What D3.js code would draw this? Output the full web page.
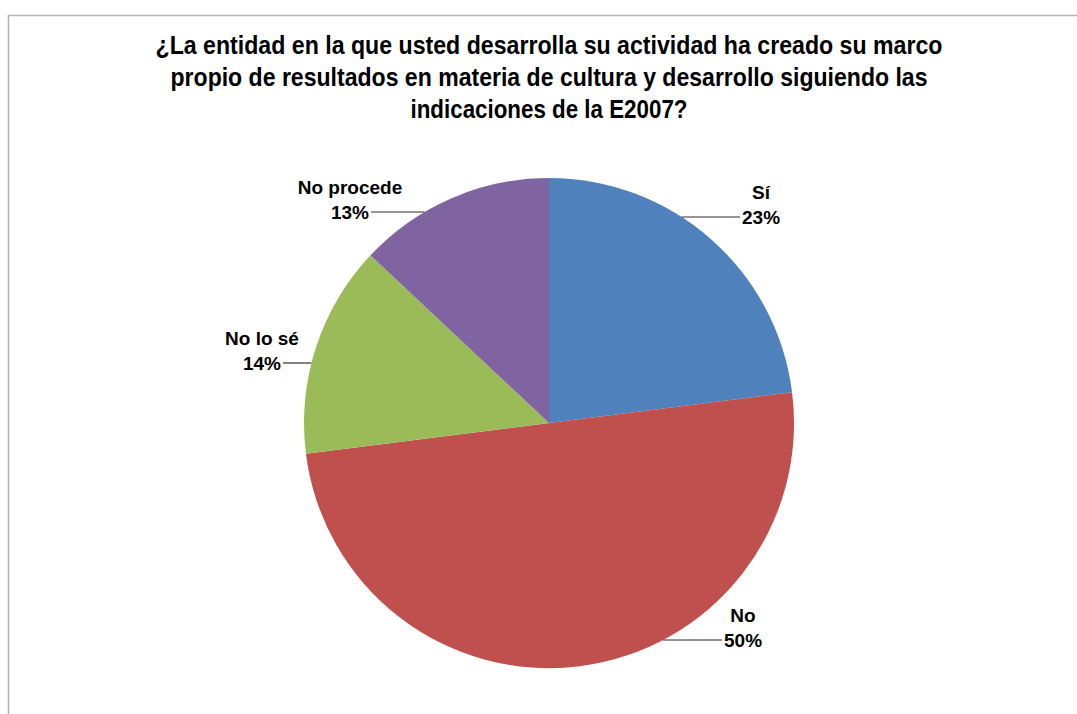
<!DOCTYPE html>
<html>
<head>
<meta charset="utf-8">
<script src="https://cdn.jsdelivr.net/npm/d3@7"></script>
<style>
  body { margin: 0; background: #fff; }
  svg { display: block; }
</style>
</head>
<body>
<div id="chart"></div>
<script>
"use strict";

// Data
const categories = ["Sí", "No", "No lo sé", "No procede"];
const percentages = [23, 50, 14, 13];
const colors = ["#4F81BD", "#C0504D", "#9BBB59", "#8064A2"];
const titleLines = [
    "¿La entidad en la que usted desarrolla su actividad ha creado su marco",
    "propio de resultados en materia de cultura y desarrollo siguiendo las",
    "indicaciones de la E2007?"
];

// Layout
const width = 1077, height = 714;
const cx = 549, cy = 423, radius = 245;
const titleWidths = [787, 757, 277];
// label side end of each leader line, relative to pie centre
const labelLayout = [
    { dx: 191, dy: -206 },
    { dx: 173, dy: 217 },
    { dx: -266, dy: -60 },
    { dx: -178, dy: -211 }
];

const svg = d3.select("#chart").append("svg")
    .attr("width", width)
    .attr("height", height)
    .attr("viewBox", [0, 0, width, height]);

// Chart frame (right and bottom edges are cut off in the picture)
svg.append("rect")
    .attr("x", 8.5)
    .attr("y", 15.5)
    .attr("width", width + 20)
    .attr("height", height + 20)
    .attr("fill", "#fff")
    .attr("stroke", "#b3b3b3")
    .attr("stroke-width", 1.5);

// Title
svg.append("g")
    .attr("font-family", "'Liberation Sans', Arial, sans-serif")
    .attr("font-weight", "bold")
    .attr("font-size", 25)
    .attr("fill", "#000")
    .selectAll("text")
    .data(titleLines)
    .join("text")
    .attr("x", cx)
    .attr("y", (d, i) => 54 + i * 32)
    .attr("text-anchor", "middle")
    .attr("textLength", (d, i) => titleWidths[i])
    .attr("lengthAdjust", "spacingAndGlyphs")
    .text(d => d);

const pie = d3.pie().sort(null).value(d => d.value);
const arc = d3.arc().innerRadius(0).outerRadius(radius);

const slices = pie(categories.map((c, i) => ({ name: c, value: percentages[i], color: colors[i] })));

const g = svg.append("g").attr("transform", `translate(${cx},${cy})`);

g.selectAll("path.slice")
    .data(slices)
    .join("path")
    .attr("class", "slice")
    .attr("d", arc)
    .attr("fill", d => d.data.color);

// Leader lines: horizontal from label to the pie edge
const labels = g.append("g")
    .attr("font-family", "'Liberation Sans', Arial, sans-serif")
    .attr("font-weight", "bold")
    .attr("font-size", 19)
    .attr("fill", "#000");

slices.forEach((d, i) => {
    const L = labelLayout[i];
    const side = L.dx > 0 ? 1 : -1;
    const edgeX = side * Math.sqrt(radius * radius - L.dy * L.dy);

    g.append("line")
        .attr("x1", L.dx)
        .attr("y1", L.dy)
        .attr("x2", edgeX)
        .attr("y2", L.dy)
        .attr("stroke", "#2e2e2e")
        .attr("stroke-width", 1.2);

    const pct = labels.append("text")
        .attr("x", L.dx + side * 2)
        .attr("y", L.dy + 7)
        .attr("text-anchor", side > 0 ? "start" : "end")
        .text(d.data.value + "%");

    const w = pct.node().getComputedTextLength();
    const mid = L.dx + side * (2 + w / 2);

    labels.append("text")
        .attr("x", mid)
        .attr("y", L.dy + 7 - 25)
        .attr("text-anchor", "middle")
        .text(d.data.name);
});
</script>
</body>
</html>
